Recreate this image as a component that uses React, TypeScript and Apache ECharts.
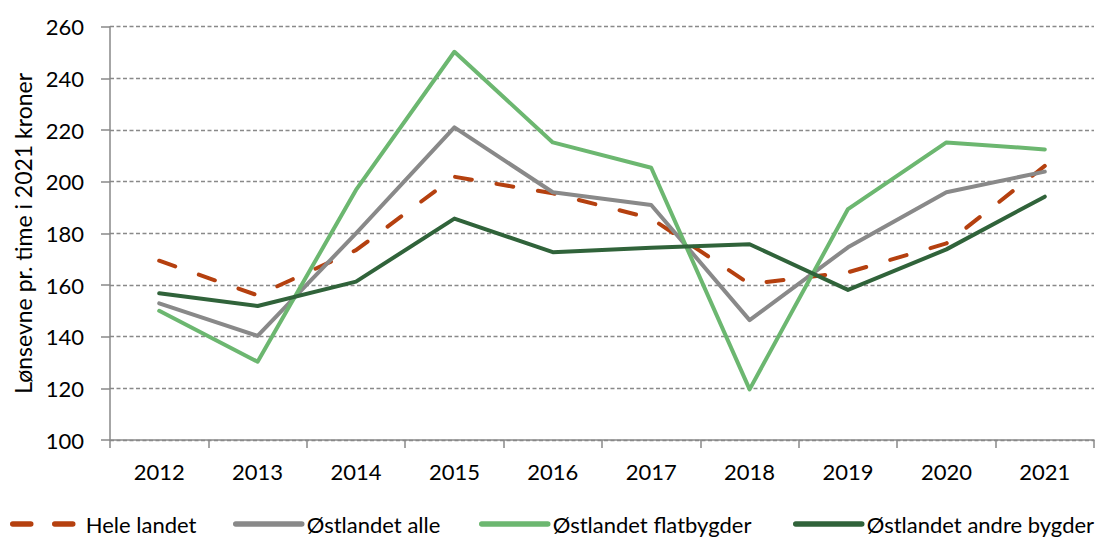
import React, { useEffect, useRef } from "react";
import * as echarts from "echarts";

const years = ["2012", "2013", "2014", "2015", "2016", "2017", "2018", "2019", "2020", "2021"];
const heleLandet = [169.4, 156.0, 173.5, 201.9, 195.5, 185.8, 160.4, 164.9, 176.1, 206.1];
const ostlandetAlle = [152.9, 140.3, 180.0, 221.0, 195.9, 191.0, 146.4, 174.6, 195.9, 203.9];
const ostlandetFlat = [150.0, 130.3, 196.8, 250.3, 215.2, 205.4, 119.6, 189.4, 215.2, 212.5];
const ostlandetAndre = [156.8, 151.9, 161.3, 185.7, 172.7, 174.4, 175.8, 158.1, 173.8, 194.2];
const seriesNames = ["Hele landet", "Østlandet alle", "Østlandet flatbygder", "Østlandet andre bygder"];
const yTicks = { min: 100, max: 260, interval: 20 };
const yAxisTitle = "Lønsevne pr. time i 2021 kroner";

const FONT = "Lato, 'Open Sans', sans-serif";
const colors = ["#B5400F", "#898989", "#6CB770", "#30633A"];
const seriesData = [heleLandet, ostlandetAlle, ostlandetFlat, ostlandetAndre];

export default function App() {
  const ref = useRef<HTMLDivElement>(null);
  useEffect(() => {
    document.body.style.margin = "0";
    if (!ref.current) return;
    const chart = echarts.init(ref.current, undefined, { renderer: "svg" });
    const legendLefts = [10, 233, 479, 793];
    const legendWidths = [60, 66, 66, 66];
    chart.setOption({
      animation: false,
      backgroundColor: "#ffffff",
      grid: { left: 110, right: 4, top: 26.7, bottom: 99, containLabel: false },
      legend: seriesNames.map((n, i) => ({
        data: [n],
        left: legendLefts[i],
        top: 513,
        itemWidth: legendWidths[i],
        itemHeight: 14,
        padding: 0,
        itemStyle: { opacity: 0 },
        textStyle: {
          fontFamily: FONT,
          fontSize: 22,
          color: "#000",
          padding: i === 0 ? [0, 0, 0, 8] : 0,
        },
        lineStyle: {
          width: 5.5,
          cap: "round",
          type: i === 0 ? [18, 24] : "solid",
          color: colors[i],
        },
      })),
      xAxis: {
        type: "category",
        data: years,
        boundaryGap: true,
        axisLine: { lineStyle: { color: "#898989", width: 1.5 } },
        axisTick: { show: true, length: 8, lineStyle: { color: "#898989", width: 1.5 } },
        axisLabel: { color: "#000", fontFamily: FONT, fontSize: 22, margin: 20 },
        splitLine: { show: false },
      },
      yAxis: {
        type: "value",
        min: yTicks.min,
        max: yTicks.max,
        interval: yTicks.interval,
        name: yAxisTitle,
        nameLocation: "middle",
        nameRotate: 90,
        nameGap: 70,
        nameTextStyle: { color: "#000", fontFamily: FONT, fontSize: 23 },
        axisLine: { show: true, lineStyle: { color: "#898989", width: 1.5 } },
        axisTick: { show: true, length: 9, lineStyle: { color: "#898989", width: 1.5 } },
        axisLabel: { color: "#000", fontFamily: FONT, fontSize: 22, margin: 26 },
        splitLine: { show: true, lineStyle: { color: "#898989", width: 1.3, type: [4, 2.5] } },
      },
      series: seriesNames.map((n, i) => ({
        name: n,
        type: "line",
        data: seriesData[i],
        symbol: "none",
        showSymbol: false,
        color: colors[i],
        lineStyle: {
          color: colors[i],
          width: 4,
          type: i === 0 ? [17, 25] : "solid",
          cap: "round",
          join: "round",
        },
        z: 2 + i,
      })),
    });
    return () => chart.dispose();
  }, []);
  return <div ref={ref} style={{ width: 1098, height: 539 }} />;
}
